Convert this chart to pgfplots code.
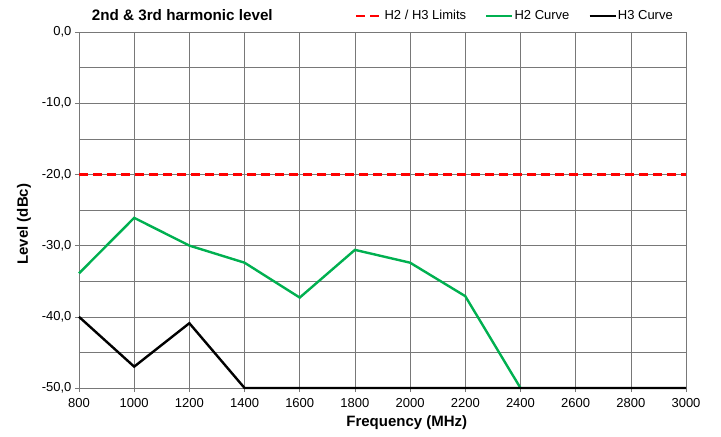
\documentclass[border=0pt]{standalone}
\usepackage{pgfplots}
\pgfplotsset{compat=1.18}
\usepackage{fontspec}
\setmainfont{Liberation Sans}
\definecolor{xlgreen}{RGB}{0,176,80}
\definecolor{gridgray}{RGB}{120,120,120}
\begin{document}
\begin{tikzpicture}[x=1pt,y=1pt]
\begin{axis}[
  scale only axis,
  width=607pt, height=356pt,
  xmin=800, xmax=3000, ymin=-50, ymax=0,
  xtick={800,1000,...,3000},
  ytick={-50,-40,...,0},
  minor ytick={-45,-35,...,-5},
  grid=both,
  major grid style={gridgray, line width=0.6pt},
  minor grid style={gridgray, line width=0.6pt},
  axis line style={gridgray, line width=0.6pt},
  tick align=outside,
  major tick length=4pt,
  minor tick length=0pt,
  tick style={gridgray, line width=0.6pt},
  xtick pos=bottom, ytick pos=left,
  tick label style={font=\fontsize{13}{15}\selectfont},
  /pgf/number format/assume math mode=true,
  xticklabel style={/pgf/number format/1000 sep={}, yshift=-3pt},
  yticklabel style={/pgf/number format/.cd, fixed, fixed zerofill, precision=1, use comma},
  xlabel={\bfseries Frequency\ (MHz)},
  ylabel={\bfseries Level (dBc)},
  label style={font=\fontsize{15}{17}\selectfont},
  xlabel style={at={(ticklabel cs:0.54)}, yshift=-1pt},
  ylabel style={at={(ticklabel cs:0.46)}, yshift=4pt},
  legend columns=-1,
  legend style={at={(rel axis cs:1,1)}, xshift=-12pt, yshift=16pt, anchor=east, draw=none, fill=none,
    font=\fontsize{13}{15}\selectfont, /tikz/every even column/.append style={column sep=18pt},
    inner sep=0pt, nodes={inner sep=1pt}},
  legend image code/.code={\draw[#1] (0pt,0pt) -- (26pt,0pt);},
  clip=false,
]
\addplot[red, line width=2.2pt, dash pattern=on 9pt off 5pt] coordinates {(800,-20) (3000,-20)};
\addlegendentry{H2 / H3 Limits}
\addplot[xlgreen, line width=2.4pt] coordinates {
(800,-33.9) (1000,-26.1) (1200,-30.0) (1400,-32.4) (1600,-37.3) (1800,-30.6) (2000,-32.4) (2200,-37.1) (2400,-50.0)};
\addlegendentry{H2 Curve}
\addplot[black, line width=2.4pt] coordinates {
(800,-40.0) (1000,-47.0) (1200,-40.9) (1400,-50.0) (1600,-50.0) (1800,-50.0) (2000,-50.0) (2200,-50.0) (2400,-50.0) (2600,-50.0) (2800,-50.0) (3000,-50.0)};
\addlegendentry{H3 Curve}
\node[anchor=west, inner sep=0pt, font=\bfseries\fontsize{15.2}{17}\selectfont] at (rel axis cs:0.021,1) [yshift=17pt] {2nd \& 3rd harmonic level};
\end{axis}
\path[use as bounding box] ([xshift=-79pt,yshift=-48pt]current axis.south west) rectangle ([xshift=35pt,yshift=32pt]current axis.north east);
\end{tikzpicture}
\end{document}
